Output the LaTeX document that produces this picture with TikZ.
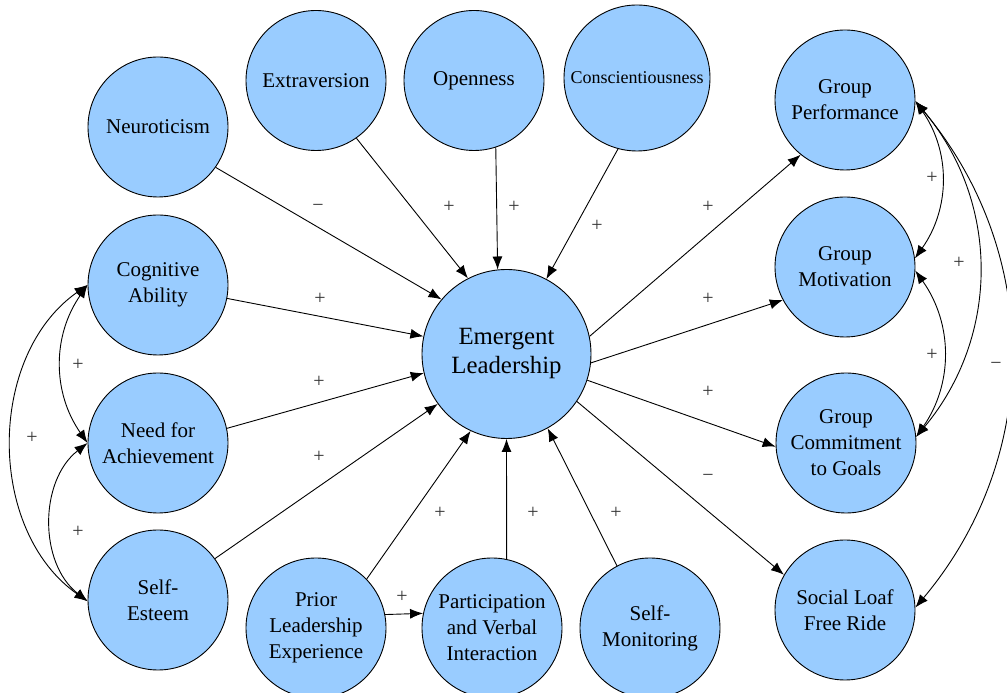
\documentclass[tikz,border=0pt]{standalone}
\usepackage{fontspec}
\setmainfont{Liberation Serif}
\newfontfamily\termfont{Liberation Serif}
\usetikzlibrary{arrows.meta}
\definecolor{nodeblue}{RGB}{153,204,255}
\begin{document}
\begin{tikzpicture}[x=1pt,y=1pt,
  factor/.style={circle,draw=black,line width=0.9pt,fill=nodeblue,minimum size=140pt,
    inner sep=0pt,align=center,font=\termfont\fontsize{21}{26}\selectfont},
  link/.style={line width=0.9pt,-{Latex[length=13pt,width=10pt]}},
  mutual/.style={line width=0.9pt,{Latex[length=13pt,width=10pt]}-{Latex[length=13pt,width=10pt]}},
  sign/.style={font=\termfont\fontsize{20}{20}\selectfont,text=black!80,inner sep=0pt}]
\useasboundingbox (0,0) rectangle (1007,693);

% central construct
\node[factor,minimum size=169pt,font=\termfont\fontsize{24.8}{29}\selectfont] (el) at (506.5,339) {Emergent\\Leadership};

% personality traits (top and left)
\node[factor] (neu)  at (158,566)   {Neuroticism};
\node[factor] (ext)  at (316,612.5) {Extraversion};
\node[factor] (open) at (474,612.5) {Openness};
\node[factor,minimum size=146pt,font=\termfont\fontsize{18}{22}\selectfont]
      (consc) at (637,615) {Conscientiousness};
\node[factor] (ca) at (158,408) {Cognitive\\Ability};
\node[factor] (na) at (158,250) {Need for\\Achievement};
\node[factor] (se) at (158,93)  {Self-\\Esteem};

% behavioural antecedents (bottom)
\node[factor] (prior) at (316,65) {Prior\\Leadership\\Experience};
\node[factor] (part)  at (492,65) {Participation\\and Verbal\\Interaction};
\node[factor] (sm)    at (650,65) {Self-\\Monitoring};

% group outcomes (right)
\node[factor] (gp) at (845,593) {Group\\Performance};
\node[factor] (gm) at (845,426) {Group\\Motivation};
\node[factor] (gc) at (846,250) {Group\\Commitment\\to Goals};
\node[factor] (sl) at (845,83)  {Social Loaf\\Free Ride};

% paths into emergent leadership
\draw[link] (neu.-35)    -- (el.140);
\draw[link] (ext.-55)    -- (el.117);
\draw[link] (open.-72)   -- (el.96);
\draw[link] (consc.-105) -- (el.62);
\draw[link] (ca.-11)     -- (el.168);
\draw[link] (na.12)      -- (el.-167);
\draw[link] (se.36)      -- (el.-144);
\draw[link] (prior.44)   -- (el.-115);
\draw[link] (part.78)    -- (el.-90);
\draw[link] (sm.118)     -- (el.-61);
\draw[link] (prior.11)   -- (part.168);

% paths out of emergent leadership
\draw[link] (el.12)    -- (gp.-129);
\draw[link] (el.-6)    -- (gm.-152);
\draw[link] (el.-18.5) -- (gc.183);
\draw[link] (el.-34)   -- (sl.150);

% correlations among outcomes
\draw[mutual] (gp.-1) to[bend left=35] (gm.7);
\draw[mutual] (gm.-3) to[bend left=35] (gc.5);
\draw[mutual] (gp.-1) to[bend left=40] (gc.5);
\draw[mutual] (gp.-1) to[bend left=40] (sl.2);

% correlations among traits
\draw[mutual] (ca.180) to[bend right=35] (na.180);
\draw[mutual] (na.180) to[bend right=52] (se.181);
\draw[mutual] (ca.180) to[bend right=55] (se.181);

% signs of the effects
\node[sign] (s1)  at (318,485) {−};
\node[sign] (s2)  at (449,486) {+};
\node[sign] (s3)  at (514,486) {+};
\node[sign] (s4)  at (597,467) {+};
\node[sign] (s5)  at (320,394) {+};
\node[sign] (s6)  at (319,311) {+};
\node[sign] (s7)  at (319,236) {+};
\node[sign] (s8)  at (440,180) {+};
\node[sign] (s9)  at (533,180) {+};
\node[sign] (s10) at (616,180) {+};
\node[sign] (s11) at (402,96)  {+};
\node[sign] (s12) at (708,486) {+};
\node[sign] (s13) at (708,394) {+};
\node[sign] (s14) at (708,301) {+};
\node[sign] (s15) at (708,215) {−};
\node[sign] (s16) at (932,515) {+};
\node[sign] (s17) at (959,430) {+};
\node[sign] (s18) at (932,338) {+};
\node[sign] (s19) at (996,327) {−};
\node[sign] (s20) at (78,328)  {+};
\node[sign] (s21) at (32,255)  {+};
\node[sign] (s22) at (78,161)  {+};
\end{tikzpicture}
\end{document}
